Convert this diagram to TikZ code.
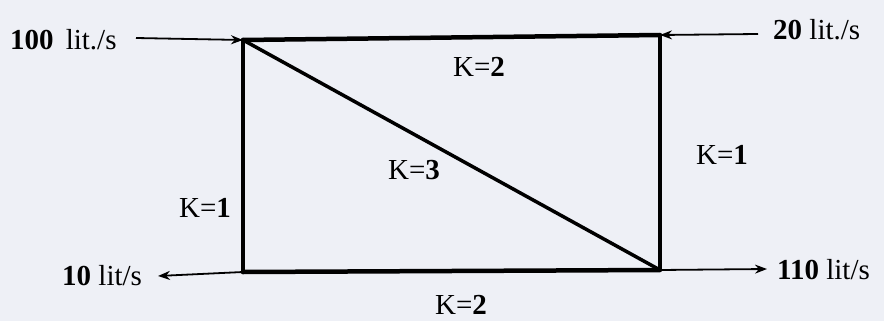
\documentclass[tikz,border=0pt]{standalone}
\usepackage{fontspec}
\setmainfont{Liberation Serif}
\usetikzlibrary{arrows.meta}
\definecolor{bg}{HTML}{EEF0F6}
\tikzset{
  pipe/.style={line width=4.5pt, line cap=round, line join=miter},
  flow/.style={line width=1.8pt, -{Stealth[length=12pt,width=9pt]}},
  lbl/.style={font=\fontsize{29}{31}\selectfont, inner sep=0pt},
  klbl/.style={font=\fontsize{29}{31}\selectfont, inner sep=0pt}
}
\begin{document}
\begin{tikzpicture}[x=1pt,y=-1pt]
\fill[bg] (0,0) rectangle (884,321);
\useasboundingbox (0,0) rectangle (884,321);
\coordinate (tl) at (243,40);
\coordinate (tr) at (660,35);
\coordinate (bl) at (243,272);
\coordinate (br) at (660,270);
\draw[pipe] (tl) -- (tr);
\draw[pipe] (bl) -- (br);
\draw[pipe] (tl) -- (bl);
\draw[line width=3.5pt] (tr) -- (br);
\draw[line width=3.5pt] (tl) -- (br);
% flow labels
\node[lbl, anchor=west] (q1) at (10,40) {\textbf{100}\, lit./s};
\node[lbl, anchor=west] (q2) at (773,30) {\textbf{20} lit./s};
\node[lbl, anchor=west] (q3) at (62,276) {\textbf{10} lit/s};
\node[lbl, anchor=west] (q4) at (777,270) {\textbf{110} lit/s};
\coordinate (a1) at (136,38);
\coordinate (a2) at (758,34);
\coordinate (a3) at (158,276);
\coordinate (a4) at (767,269);
\draw[flow] (a1) -- (tl);
\draw[flow] (a2) -- (tr);
\draw[flow] (bl) -- (a3);
\draw[flow] (br) -- (a4);
% K labels
\node[klbl] (k1) at (479,67) {K=\textbf{2}};
\node[klbl] (k2) at (414,170) {K=\textbf{3}};
\node[klbl] (k3) at (461,305) {K=\textbf{2}};
\node[klbl] (k4) at (722,155) {K=\textbf{1}};
\node[klbl] (k5) at (205,208) {K=\textbf{1}};
\end{tikzpicture}
\end{document}
